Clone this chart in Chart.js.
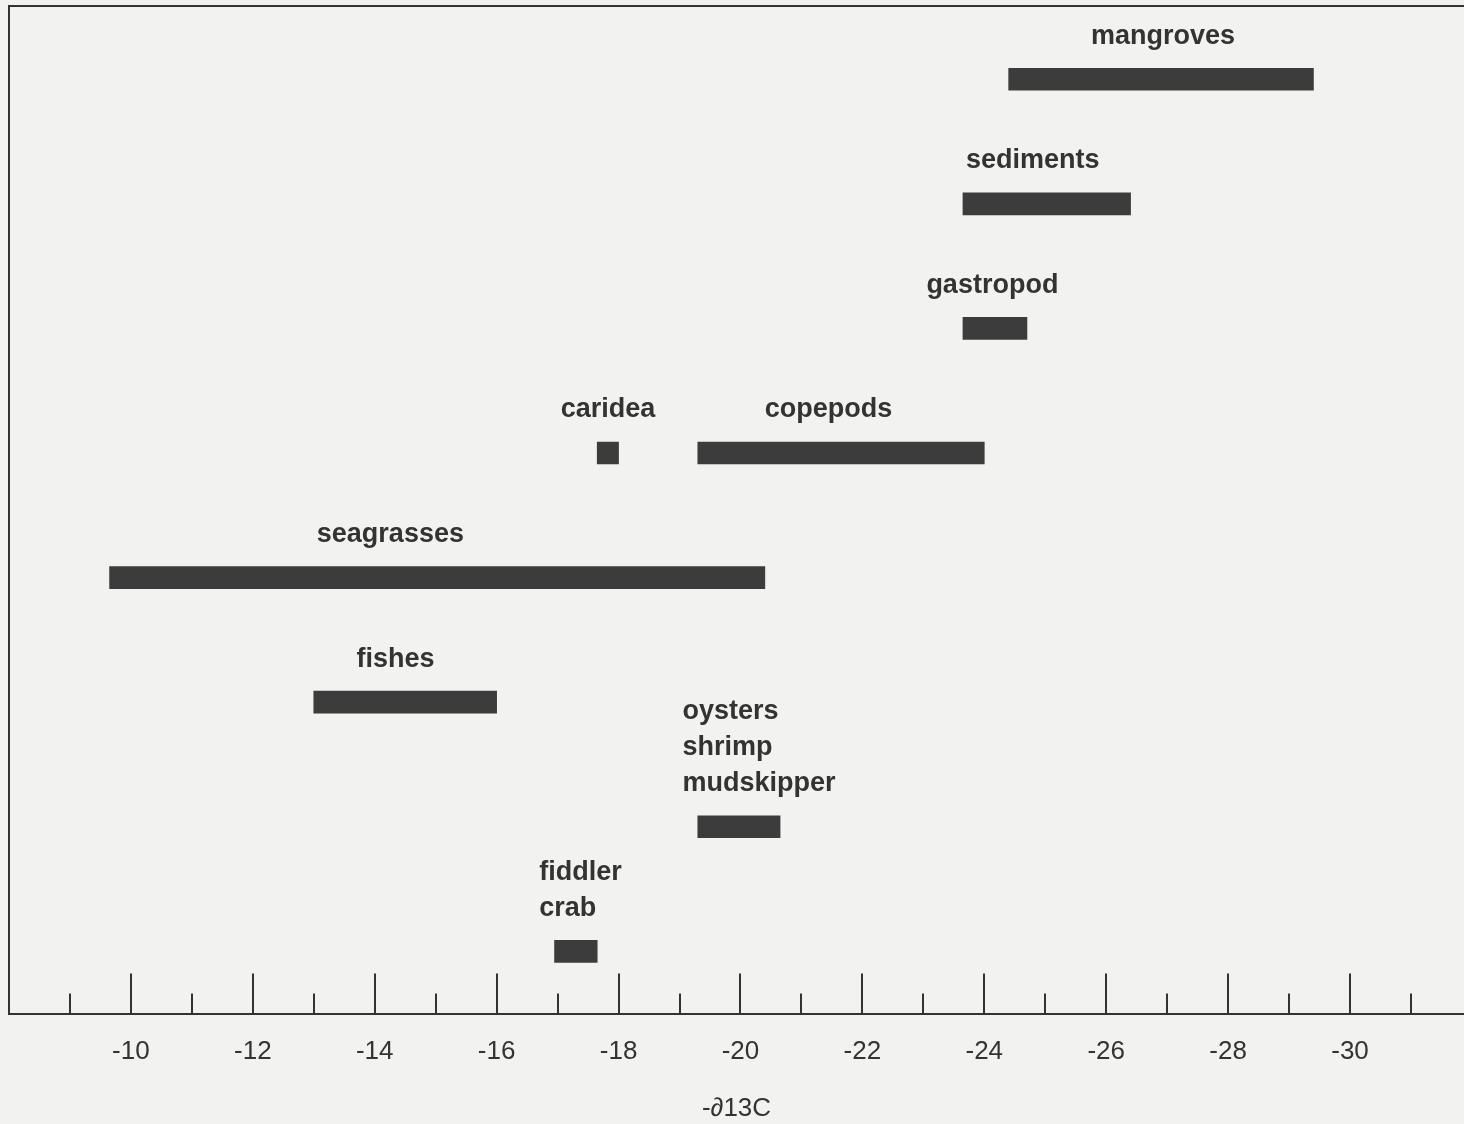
<!DOCTYPE html>
<html>
<head>
<meta charset="utf-8">
<script src="https://cdn.jsdelivr.net/npm/chart.js@4/dist/chart.umd.min.js"></script>
<style>
  html, body { margin: 0; padding: 0; background: #f2f2f0; }
  canvas { display: block; }
</style>
</head>
<body>
<canvas id="myChart" width="1464" height="1124"></canvas>
<script>
// rows of the chart, top to bottom
const rows = ['mangroves', 'sediments', 'gastropod', 'caridea / copepods', 'seagrasses', 'fishes', 'oysters / shrimp / mudskipper', 'fiddler crab']

// one entry per bar
const groups = ['mangroves', 'sediments', 'gastropod', 'caridea', 'copepods', 'seagrasses', 'fishes', 'oysters\nshrimp\nmudskipper', 'fiddler\ncrab']
const groupRow = [0, 1, 2, 3, 3, 4, 5, 6, 7]
const rangeFrom = [-24.4, -23.65, -23.65, -17.65, -19.3, -9.65, -13.0, -19.3, -16.95]
const rangeTo = [-29.4, -26.4, -24.7, -18.0, -24.0, -20.4, -16.0, -20.65, -17.65]
// where each label starts, in ∂13C units
const labelFrom = [-25.75, -23.7, -23.05, -17.05, -20.4, -13.05, -13.7, -19.05, -16.7]

const tickValues = [-10, -12, -14, -16, -18, -20, -22, -24, -26, -28, -30]

const ink = '#333333'
const barColor = '#3c3c3c'

const background = {
  id: 'background',
  beforeDraw (chart) {
    const ctx = chart.ctx
    ctx.save()
    ctx.fillStyle = '#f2f2f0'
    ctx.fillRect(0, 0, chart.width, chart.height)
    ctx.restore()
  }
}

// frame on top and left, tick marks pointing up into the plot
const frame = {
  id: 'frame',
  afterDraw (chart) {
    const { ctx, chartArea } = chart
    const x = chart.scales.x
    const top = 6
    ctx.save()
    ctx.strokeStyle = ink
    ctx.lineWidth = 2
    ctx.beginPath()
    ctx.moveTo(chartArea.left, chartArea.bottom)
    ctx.lineTo(chartArea.left, top)
    ctx.lineTo(chartArea.right, top)
    ctx.stroke()
    x.ticks.forEach(t => {
      if (!Number.isInteger(t.value)) return
      const px = Math.round(x.getPixelForValue(t.value))
      const len = t.value % 2 === 0 ? 40 : 20
      ctx.beginPath()
      ctx.moveTo(px, chartArea.bottom)
      ctx.lineTo(px, chartArea.bottom - len)
      ctx.stroke()
    })
    ctx.restore()
  }
}

const barLabels = {
  id: 'barLabels',
  afterDatasetsDraw (chart) {
    const { ctx } = chart
    const x = chart.scales.x
    const y = chart.scales.y
    ctx.save()
    ctx.fillStyle = ink
    ctx.font = 'bold 27px "Liberation Sans", Arial, sans-serif'
    ctx.textBaseline = 'middle'
    ctx.textAlign = 'left'
    groups.forEach((g, i) => {
      const lines = g.split('\n')
      const px = x.getPixelForValue(labelFrom[i])
      const py = y.getPixelForValue(groupRow[i])
      lines.reverse().forEach((line, k) => {
        ctx.fillText(line, px, py - 43 - k * 36)
      })
    })
    ctx.restore()
  }
}

new Chart(document.getElementById('myChart'), {
  type: 'bar',
  data: {
    labels: rows,
    datasets: [{
      data: groups.map((g, i) => ({ y: rows[groupRow[i]], x: [rangeFrom[i], rangeTo[i]] })),
      backgroundColor: barColor,
      borderWidth: 0,
      barThickness: 22
    }]
  },
  options: {
    indexAxis: 'y',
    responsive: false,
    animation: false,
    layout: { padding: { left: 9, top: 17, right: 0, bottom: 0 } },
    plugins: {
      legend: { display: false },
      tooltip: { enabled: false }
    },
    scales: {
      x: {
        type: 'linear',
        reverse: true,
        min: -31.87,
        max: -8,
        grid: { display: false, drawTicks: false },
        border: { display: true, color: ink, width: 2 },
        afterBuildTicks (scale) {
          const t = []
          for (let v = -8; v >= -31; v--) t.push({ value: v })
          scale.ticks = t
        },
        afterFit (scale) {
          scale.paddingLeft = 0
          scale.paddingRight = 0
        },
        ticks: {
          autoSkip: false,
          maxRotation: 0,
          padding: 23,
          color: ink,
          font: { family: '"Liberation Sans", Arial, sans-serif', size: 26 },
          callback: (v) => tickValues.includes(v) ? String(v) : ''
        },
        title: {
          display: true,
          text: '-∂13C',
          color: ink,
          padding: { top: 2, bottom: 0 },
          font: { family: '"Liberation Sans", Arial, sans-serif', size: 26 }
        }
      },
      y: {
        type: 'category',
        display: false
      }
    }
  },
  plugins: [background, frame, barLabels]
})
</script>
</body>
</html>
